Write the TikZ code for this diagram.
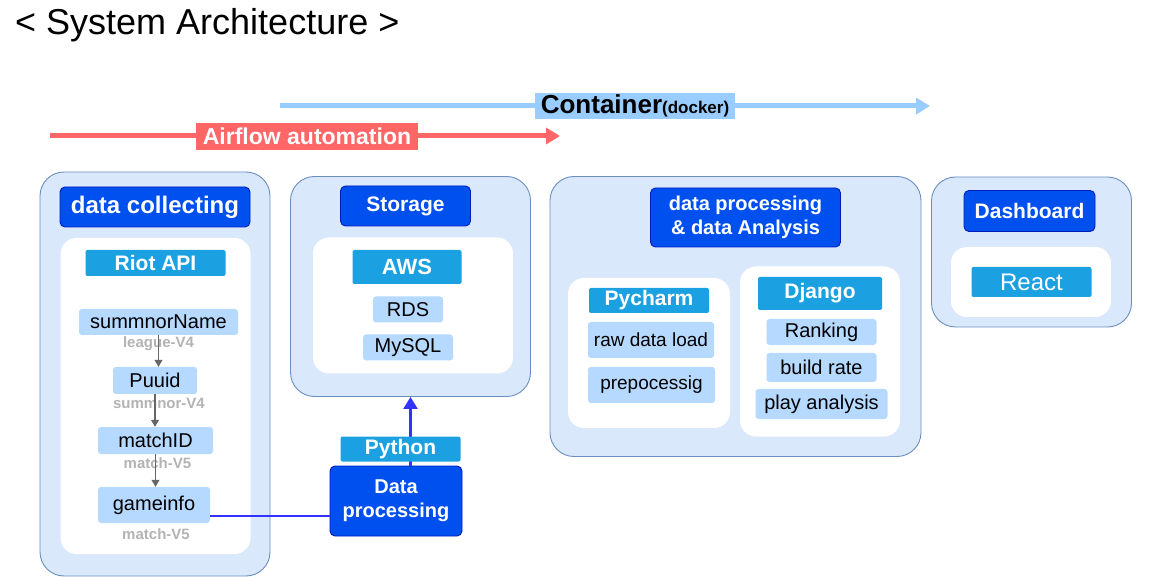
\documentclass[tikz,border=0pt]{standalone}
\usepackage{fontspec}
\setmainfont{Liberation Sans}
\usetikzlibrary{positioning,calc,arrows.meta,shapes}
\definecolor{grpfill}{HTML}{DAE8FC}
\definecolor{grpline}{HTML}{6C8EBF}
\definecolor{hdrfill}{HTML}{0050EF}
\definecolor{hdrline}{HTML}{001DBC}
\definecolor{toolfill}{HTML}{1BA1E2}
\definecolor{itemfill}{HTML}{B5D9FF}
\definecolor{apigray}{HTML}{B3B3B3}
\definecolor{callgray}{HTML}{666666}
\definecolor{flowblue}{HTML}{3333FF}
\definecolor{contblue}{HTML}{99CCFF}
\definecolor{airred}{HTML}{FF6666}
\newcommand{\setfs}[1]{\fontsize{#1pt}{\dimexpr#1pt*6/5\relax}\selectfont}

\begin{document}
\begin{tikzpicture}[x=1pt, y=-1pt,
       group/.style={rectangle, rounded corners=24pt, fill=grpfill, draw=grpline, line width=0.9pt, inner sep=0pt},
       panel/.style={rectangle, rounded corners=16pt, fill=white, inner sep=0pt},
       header/.style={rectangle, rounded corners=5pt, fill=hdrfill, draw=hdrline, line width=0.9pt, text=white, inner sep=0pt, align=center, font=\bfseries\setfs{#1}},
       header/.default=21,
       tool/.style={rectangle, rounded corners=2pt, fill=toolfill, text=white, inner sep=0pt, font=\bfseries\setfs{#1}},
       tool/.default=21,
       item/.style={rectangle, rounded corners=3pt, fill=itemfill, text=black, inner sep=0pt, font=\setfs{#1}},
       item/.default=20,
       api/.style={text=apigray, inner sep=0pt, font=\bfseries\setfs{15}},
       call/.style={draw=callgray, line width=1.1pt, -{Triangle[length=7pt,width=8pt]}},
       flow/.style={draw=flowblue, line width=2.4pt},
       stage/.style={line width=5pt, -{Triangle[length=14pt,width=16pt]}}]
       \useasboundingbox (0,0) rectangle (1160,577);

       \node [anchor=west, inner sep=0pt, font=\setfs{36}] at (15,25) (title) {< System Architecture >};

       \coordinate (dockS) at (280,106);
       \coordinate (dockE) at (930,106);
       \draw [stage, draw=contblue] (dockS) -- (dockE);
       \node [rectangle, fill=contblue, inner sep=0pt, minimum width=200pt, minimum height=26pt] at (635,106) (docker)
       {\bfseries\setfs{26}Container{\setfs{17}(docker)}};
       \coordinate (airS) at (50,136);
       \coordinate (airE) at (560,136);
       \draw [stage, draw=airred] (airS) -- (airE);
       \node [rectangle, fill=airred, text=white, inner sep=0pt, minimum width=222pt, minimum height=27pt, font=\bfseries\setfs{23}] at (307,136.5) (airflow)
       {Airflow automation};

       \node [group, minimum width=230pt, minimum height=404pt] at (155,374) (collect) {};
       \node [header=24, minimum width=190pt, minimum height=40pt] at (155,207) (collecthdr) {data collecting};
       \node [panel, minimum width=190pt, minimum height=316pt] at (155.5,396) (collectpnl) {};
       \node [tool, minimum width=140pt, minimum height=26pt] at (155.5,263) (riot) {Riot API};
       \node [item, minimum width=159pt, minimum height=26pt] at (158.5,322) (summ) {summnorName};
       \node [item, minimum width=84pt, minimum height=27pt] at (155,380.5) (puuid) {Puuid};
       \node [item, minimum width=115pt, minimum height=27pt] at (155.5,440.5) (matchid) {matchID};
       \node [item, minimum width=112pt, minimum height=36pt] at (154,505) (gameinfo) {gameinfo};
       \node [api] at (158.5,344) (leaguev) {league-V4};
       \node [api] at (159,403) (summv) {summnor-V4};
       \node [api] at (157.5,463) (matchv) {match-V5};
       \node [api] at (156,534) (gamev) {match-V5};
       \draw [call] (summ.south) -- (summ.south |- puuid.north);
       \draw [call] (puuid.south) -- (puuid.south |- matchid.north);
       \draw [call] (matchid.south) -- (matchid.south |- gameinfo.north);

       \node [group, minimum width=240pt, minimum height=220pt] at (410.5,286.5) (storage) {};
       \node [header, minimum width=130pt, minimum height=40pt] at (405.5,206) (storagehdr) {Storage};
       \node [panel, minimum width=200pt, minimum height=136pt] at (413,305.5) (storagepnl) {};
       \node [tool=22, minimum width=109pt, minimum height=34pt] at (407,267) (aws) {AWS};
       \node [item, minimum width=70pt, minimum height=26pt] at (408,309.5) (rds) {RDS};
       \node [item, minimum width=90pt, minimum height=26pt] at (408,347.5) (mysql) {MySQL};

       \node [header=20, minimum width=132pt, minimum height=70pt] at (396,501) (dataproc) {Data\\processing};
       \coordinate (gameout) at ($(gameinfo.south east)!0.2!(gameinfo.north east)$);
       \draw [flow] (gameout) -- (gameout -| dataproc.west);
       \draw [flow, -{Triangle[length=12pt,width=14pt]}] (storage.south |- dataproc.north) -- (storage.south);
       \node [tool, minimum width=120pt, minimum height=25pt] at (400.5,449) (python) {Python};

       \node [group, minimum width=371pt, minimum height=280pt] at (735.5,316.5) (analysis) {};
       \node [header=20, minimum width=190pt, minimum height=59pt] at (745.5,217.5) (analysishdr) {data processing\\\& data Analysis};
       \node [panel, minimum width=162pt, minimum height=150pt] at (649,353) (pycharmpnl) {};
       \node [tool, minimum width=120pt, minimum height=25pt] at (649,300.5) (pycharm) {Pycharm};
       \node [item=19, minimum width=126pt, minimum height=36pt] at (651,340) (rawload) {raw data load};
       \node [item=19, minimum width=127pt, minimum height=36pt] at (651.5,385) (prepro) {prepocessig};
       \node [panel, minimum width=160pt, minimum height=170pt] at (820,351.5) (djangopnl) {};
       \node [tool, minimum width=124pt, minimum height=33pt] at (820,293.5) (django) {Django};
       \node [item, minimum width=110pt, minimum height=26pt] at (821.5,332) (ranking) {Ranking};
       \node [item, minimum width=110pt, minimum height=29pt] at (821.5,367.5) (buildrate) {build rate};
       \node [item, minimum width=132pt, minimum height=30pt] at (821.5,404) (playana) {play analysis};

       \node [group, minimum width=200pt, minimum height=150pt] at (1031.5,252) (dashboard) {};
       \node [header, minimum width=131pt, minimum height=41pt] at (1029.5,211) (dashboardhdr) {Dashboard};
       \node [panel, minimum width=160pt, minimum height=70pt] at (1031,282) (dashboardpnl) {};
       \node [tool, minimum width=120pt, minimum height=30pt, font=\setfs{24}] at (1031.5,282) (react) {React};
    \end{tikzpicture}
\end{document}
